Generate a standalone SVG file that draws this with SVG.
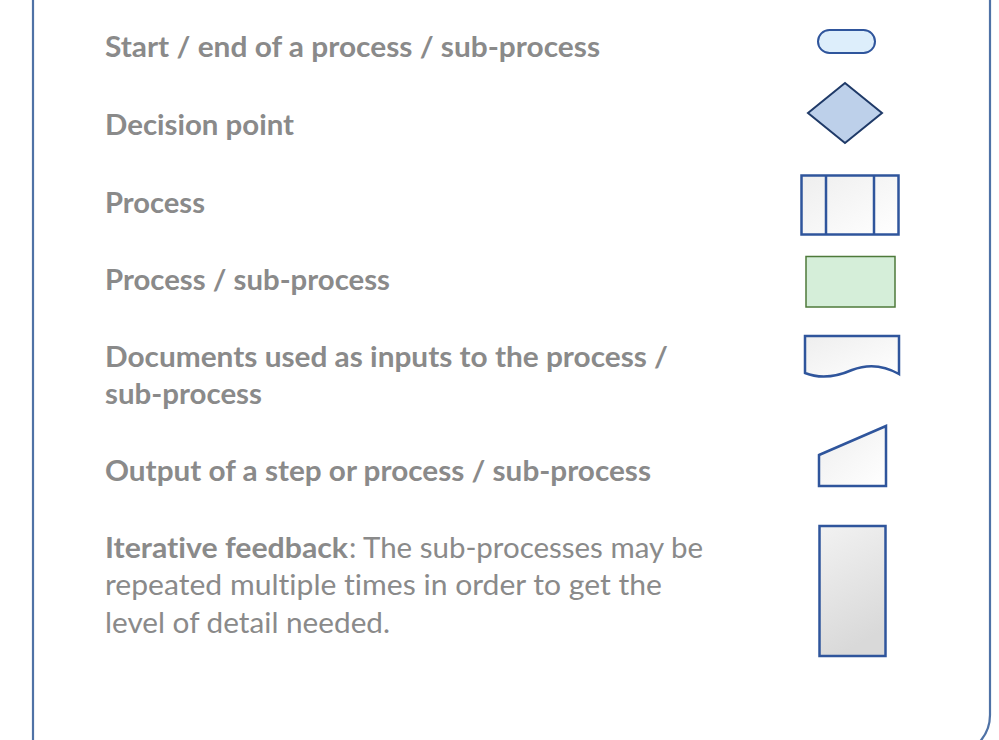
<svg xmlns="http://www.w3.org/2000/svg" width="999" height="740" viewBox="0 0 999 740">
<defs>
<style>
.t{font-family:Lato,"Open Sans","Liberation Sans",sans-serif;font-size:28px;fill:#8a8a8a;font-variant-ligatures:none}
.b{font-weight:bold}
.s{stroke:#2f559c;stroke-width:2.5;fill:url(#gw)}
</style>
<linearGradient id="gw" x1="0" y1="0" x2="1" y2="1">
<stop offset="0" stop-color="#eeeeee"/>
<stop offset="1" stop-color="#ffffff"/>
</linearGradient>
<linearGradient id="gg" x1="0" y1="0" x2="0.3" y2="1">
<stop offset="0" stop-color="#f2f2f2"/>
<stop offset="1" stop-color="#d9d9d9"/>
</linearGradient>
</defs>
<rect width="999" height="740" fill="#ffffff"/>
<g id="frame">
<path d="M33,-5 V745" fill="none" stroke="#4f72a6" stroke-width="2.2"/>
<path d="M990,-5 V715 A40,40 0 0 1 950,755" fill="none" stroke="#4f72a6" stroke-width="2.2"/>
</g>
<g id="labels">
<text class="t b" x="105" y="57" textLength="495" lengthAdjust="spacingAndGlyphs">Start / end of a process / sub-process</text>
<text class="t b" x="105" y="135" textLength="189" lengthAdjust="spacingAndGlyphs">Decision point</text>
<text class="t b" x="105" y="213" textLength="100" lengthAdjust="spacingAndGlyphs">Process</text>
<text class="t b" x="105" y="290" textLength="285" lengthAdjust="spacingAndGlyphs">Process / sub-process</text>
<text class="t b" x="105" y="367" textLength="563" lengthAdjust="spacingAndGlyphs">Documents used as inputs to the process /</text>
<text class="t b" x="105" y="404" textLength="157" lengthAdjust="spacingAndGlyphs">sub-process</text>
<text class="t b" x="105" y="481" textLength="546" lengthAdjust="spacingAndGlyphs">Output of a step or process / sub-process</text>
<text class="t b" x="105" y="558" textLength="243" lengthAdjust="spacingAndGlyphs">Iterative feedback</text>
<text class="t" x="349" y="558" textLength="354" lengthAdjust="spacingAndGlyphs">: The sub-processes may be</text>
<text class="t" x="105" y="595" textLength="557" lengthAdjust="spacingAndGlyphs">repeated multiple times in order to get the</text>
<text class="t" x="105" y="633" textLength="285" lengthAdjust="spacingAndGlyphs">level of detail needed.</text>
</g>
<g id="terminator">
<rect x="818" y="30" width="57" height="23" rx="11.5" fill="#ddeefb" stroke="#2f559c" stroke-width="2"/>
</g>
<g id="decision">
<polygon points="845,83 882,113 845,143 808,113" fill="#bdd0ea" stroke="#1f3a68" stroke-width="2"/>
</g>
<g id="predefined">
<rect x="801.5" y="175.5" width="97" height="59" class="s"/>
<line x1="826" y1="175.5" x2="826" y2="234.5" stroke="#2f559c" stroke-width="2.5"/>
<line x1="874" y1="175.5" x2="874" y2="234.5" stroke="#2f559c" stroke-width="2.5"/>
</g>
<g id="process">
<rect x="806" y="256.5" width="89" height="50.5" fill="#d5eed9" stroke="#4e7a3a" stroke-width="1.5"/>
</g>
<g id="document">
<path d="M805,336 H899 V374 C885,366 870,363 852,370 C836,377 820,379 805,373 Z" class="s"/>
</g>
<g id="manual-input">
<polygon points="819,455 886,426 886,486 819,486" class="s"/>
</g>
<g id="feedback">
<rect x="819.5" y="526" width="66" height="130" fill="url(#gg)" stroke="#2f559c" stroke-width="2.5"/>
</g>
</svg>
